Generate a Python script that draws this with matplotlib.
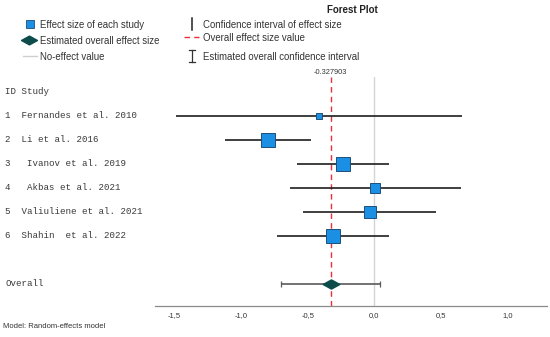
import numpy as np
import matplotlib
matplotlib.use("Agg")
import matplotlib.pyplot as plt
from matplotlib.path import Path
from matplotlib.ticker import FuncFormatter
from matplotlib.transforms import blended_transform_factory

# study data (effect size, 95% CI, weight in %)
study_labels = ["1  Fernandes et al. 2010", "2  Li et al. 2016", "3   Ivanov et al. 2019",
                "4   Akbas et al. 2021", "5  Valiuliene et al. 2021", "6  Shahin  et al. 2022"]
effect = [-0.417, -0.798, -0.232, 0.008, -0.035, -0.311]
ci_low = [-1.485, -1.119, -0.578, -0.634, -0.535, -0.727]
ci_high = [0.657, -0.472, 0.111, 0.649, 0.465, 0.109]
weights = [3.5, 26.2, 25.1, 10.2, 14.3, 20.7]

overall_effect = -0.327903
overall_low = -0.697
overall_high = 0.040

tick_vals = [-1.5, -1.0, -0.5, 0.0, 0.5, 1.0]

W, H = 550, 337
fig = plt.figure(figsize=(5.5, 3.37), dpi=100)

# main forest axes
ax = fig.add_axes([155 / W, (H - 306) / H, (547 - 155) / W, (306 - 77) / H])
ax.set_xlim(-1.645, 1.295)
ax.set_ylim(8.93, -0.61)

rows = np.arange(1, len(effect) + 1)
overall_row = len(effect) + 2

ax.axvline(0, color="#d4d4d4", lw=1.0, zorder=1)
ax.axvline(overall_effect, color="#ec2f3c", lw=1.0, ls=(0, (4, 3)), zorder=2)

ax.hlines(rows, ci_low, ci_high, color="#1e1e1e", lw=1.2, zorder=3)
for r, e, w in zip(rows, effect, weights):
    side_px = 2.93 * np.sqrt(w)
    ax.plot(e, r, marker="s", ms=side_px * 0.72, mfc="#1a8fe3", mec="#1c4f7a",
            mew=0.7, zorder=4)

ax.errorbar(overall_effect, overall_row,
            xerr=[[overall_effect - overall_low], [overall_high - overall_effect]],
            fmt="none", ecolor="#5a5a5a", elinewidth=1.2, capsize=2.5, capthick=0.9, zorder=3)
diamond = Path([(-1, 0), (0, 0.55), (1, 0), (0, -0.55), (-1, 0)],
               [Path.MOVETO, Path.LINETO, Path.LINETO, Path.LINETO, Path.CLOSEPOLY])
ax.plot(overall_effect, overall_row, marker=diamond, ms=12, mfc="#0d4c4a", mec="#0d4c4a", zorder=4)

ax.text(overall_effect, -0.78, "%.6f" % overall_effect, ha="center", va="center",
        fontsize=5.3, color="#333333", family="Liberation Sans")

for s in ["top", "right", "left"]:
    ax.spines[s].set_visible(False)
ax.spines["bottom"].set_color("#8a8a8a")
ax.spines["bottom"].set_linewidth(0.9)
ax.set_yticks([])
ax.set_xticks(tick_vals)
ax.xaxis.set_major_formatter(FuncFormatter(lambda v, p: ("%.1f" % v).replace(".", ",")))
ax.tick_params(axis="x", length=0, pad=4, labelsize=5.5, labelcolor="#333333")
for lab in ax.get_xticklabels():
    lab.set_family("Liberation Sans")
ax.patch.set_alpha(0)

# left-side study labels
tr = blended_transform_factory(fig.transFigure, ax.transData)
mono = dict(family="Liberation Mono", fontsize=6.6, color="#3a3a3a", va="center", ha="left", transform=tr)
ax.text(5 / W, 0, "ID Study", **mono)
for r, lab in zip(rows, study_labels):
    ax.text(5 / W, r, lab, **mono)
ax.text(5 / W, overall_row, "Overall", **mono)

# legend / header overlay in pixel coordinates
ov = fig.add_axes([0, 0, 1, 1])
ov.set_xlim(0, W)
ov.set_ylim(H, 0)
ov.axis("off")
ov.patch.set_alpha(0)

lt = dict(family="Liberation Sans", fontsize=6.9, color="#333333", va="center", ha="left")
ov.text(352, 10, "Forest Plot", family="Liberation Sans", fontsize=7, fontweight="bold",
        color="#222222", ha="center", va="center")

ov.plot(29.5, 24, marker="s", ms=5.2, mfc="#1a8fe3", mec="#1c4f7a", mew=0.6)
ov.text(40.5, 25, "Effect size of each study", **lt)
ov.plot(29, 39.5, marker=diamond, ms=11.5, mfc="#0d4c4a", mec="#0d4c4a")
ov.text(40.5, 40.5, "Estimated overall effect size", **lt)
ov.plot([23, 37], [56, 56], color="#cfcfcf", lw=1.0)
ov.text(40.5, 56.5, "No-effect value", **lt)

ov.plot([192, 192], [18, 30], color="#222222", lw=1.1)
ov.text(203, 25, "Confidence interval of effect size", **lt)
ov.plot([184, 199], [37, 37], color="#ec2f3c", lw=1.0, ls=(0, (4, 3)))
ov.text(203, 38, "Overall effect size value", **lt)
ov.plot([192, 192], [50, 62], color="#333333", lw=0.9)
ov.plot([189, 195], [50, 50], color="#333333", lw=0.9)
ov.plot([189, 195], [62, 62], color="#333333", lw=0.9)
ov.text(203, 57, "Estimated overall confidence interval", **lt)

ov.text(3, 326, "Model: Random-effects model", family="Liberation Sans", fontsize=5.5,
        color="#333333", va="center", ha="left")

fig.savefig("out.png", dpi=100)
print("Wrote out.png")
